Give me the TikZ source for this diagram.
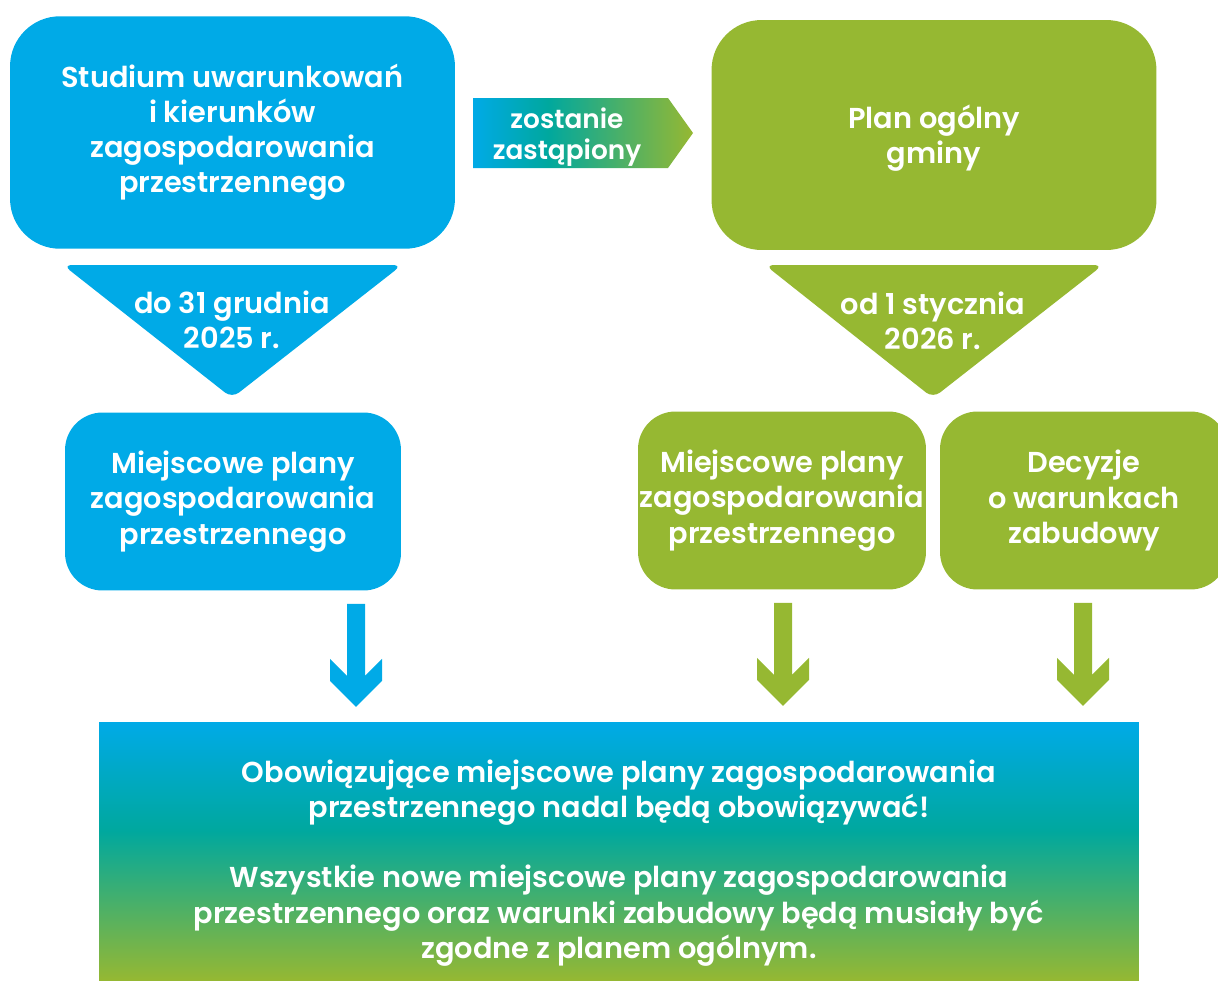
\documentclass[tikz,border=0pt]{standalone}
\usepackage{fontspec}
\setmainfont{Poppins}[BoldFont={Poppins SemiBold}]
\usetikzlibrary{calc}

\definecolor{pblue}{RGB}{0,170,231}
\definecolor{pgreen}{RGB}{150,184,50}
\definecolor{pteal}{RGB}{0,168,158}

\pgfdeclareverticalshading{wynikfade}{100bp}{color(0bp)=(pgreen); color(25bp)=(pgreen); color(54bp)=(pteal); color(75bp)=(pblue); color(100bp)=(pblue)}
\pgfdeclarehorizontalshading{bannerfade}{100bp}{color(0bp)=(pblue); color(25bp)=(pblue); color(42bp)=(pteal); color(75bp)=(pgreen); color(100bp)=(pgreen)}

\tikzset{
	txt/.style={text=white, align=center, font=\bfseries\fontsize{16.4}{20}\selectfont, inner sep=0pt},
	bigbox/.style={txt, rounded corners=1cm, minimum width=8.9cm, minimum height=4.65cm},
	smallbox/.style={txt, rounded corners=0.75cm, minimum height=3.56cm},
	downarrow/.pic={\fill (-9,0) -- (9,0) -- (9,72) -- (26,55) -- (26,77) -- (0,103) -- (-26,77) -- (-26,55) -- (-9,72) -- cycle;}
}

\begin{document}
\begin{tikzpicture}[x=0.02cm, y=-0.02cm]
	\useasboundingbox (0,0) rectangle (1218,981);
	
	\node[bigbox, fill=pblue] (studium) at (232.5,132.5) {Studium uwarunkowań\\i kierunków\\zagospodarowania\\przestrzennego};
	\node[bigbox, fill=pgreen, minimum height=4.6cm] (plan) at (934,135) {};
	\node[txt] (plantxt) at (934,138.5) {Plan ogólny\\gminy};
	
	\shade[shading=bannerfade] (473,98) -- (668,98) -- (693,133) -- (668,168) -- (473,168) -- cycle;
	\node[txt, font=\bfseries\fontsize{15}{18}\selectfont] (zast) at (567,137) {zostanie\\zastąpiony};
	
	\fill[pblue, rounded corners=5pt] (63,265) -- (402,265) -- (232,398) -- cycle;
	\node[txt] (do) at (232,320) {do 31 grudnia\\2025 r.};
	\fill[pgreen, rounded corners=5pt] (765,265) -- (1103,265) -- (933,398) -- cycle;
	\node[txt] (od) at (933,321) {od 1 stycznia\\2026 r.};
	
	\node[smallbox, fill=pblue, minimum width=6.72cm] (mpb) at (233,501.5) {Miejscowe plany\\zagospodarowania\\przestrzennego};
	\node[smallbox, fill=pgreen, minimum width=5.76cm] (mpg) at (782,500.5) {Miejscowe plany\\zagospodarowania\\przestrzennego};
	\node[smallbox, fill=pgreen, minimum width=5.76cm] (wzb) at (1084,500.5) {Decyzje\\o warunkach\\zabudowy};
	
	\pic[pblue] at ($(mpb.south)+(123,13)$) {downarrow};
	\pic[pgreen] at ($(mpg.south)+(1,13)$) {downarrow};
	\pic[pgreen] at ($(wzb.south)+(-1,13)$) {downarrow};
	
	\node[txt, shade, shading=wynikfade, minimum width=20.8cm, minimum height=5.18cm] (wynik) at (619,851.5) {};
	\node[txt] (wyniktxt) at (619,863) {Obowiązujące miejscowe plany zagospodarowania\\przestrzennego nadal będą obowiązywać!\\[20pt]Wszystkie nowe miejscowe plany zagospodarowania\\przestrzennego oraz warunki zabudowy będą musiały być\\zgodne z planem ogólnym.};
	
\end{tikzpicture}
\end{document}
